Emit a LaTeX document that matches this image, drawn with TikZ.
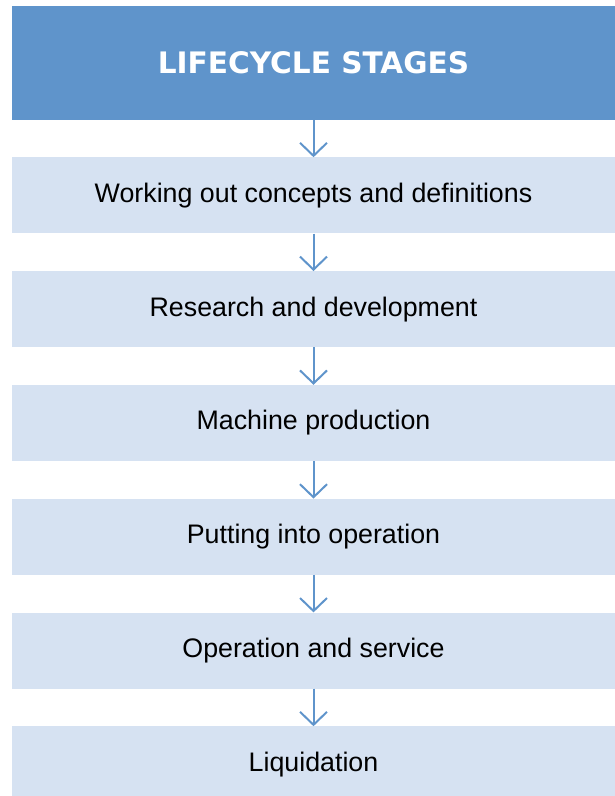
\documentclass[tikz,border=0pt]{standalone}
\usepackage{fontspec}
\setmainfont{Liberation Sans}
\newfontfamily\titlefont{DejaVu Sans}
\usetikzlibrary{positioning,arrows.meta}

\begin{document}
\begin{tikzpicture}[x=1pt,y=1pt]
    % Define colour palette
    \definecolor{headblue}{RGB}{95,148,203}
    \definecolor{stagefill}{RGB}{214,226,242}

    % Define styles
    \tikzset{
        header/.style={
            fill=headblue,
            minimum width=603pt,
            minimum height=114pt,
            inner sep=0pt,
            text=white,
            font=\titlefont\bfseries\fontsize{29.6}{35}\selectfont
        },
        stage/.style={
            fill=stagefill,
            minimum width=603pt,
            minimum height=75.9pt,
            inner sep=0pt,
            font=\fontsize{26.8}{31}\selectfont
        },
        arrow/.style={
            -{Straight Barb[length=13pt,width=27pt,line width=2pt]},
            headblue,
            line width=2pt
        }
    }

    % Fix page size
    \useasboundingbox (0,0) rectangle (615,-796);

    % Title
    \node[header] (title) at (313.5,-63) {LIFECYCLE STAGES};

    % Stage column
    \node[stage, below=37pt of title] (concepts) {Working out concepts and definitions};
    \node[stage, below=37.5pt of concepts] (research) {Research and development};
    \node[stage, below=37.5pt of research] (production) {Machine production};
    \node[stage, below=37.5pt of production] (startup) {Putting into operation};
    \node[stage, below=37.5pt of startup] (service) {Operation and service};
    \node[stage, below=37.5pt of service] (liquidation) {Liquidation};

    % Flow arrows
    \draw[arrow] (title) -- (concepts);
    \draw[arrow] (concepts) -- (research);
    \draw[arrow] (research) -- (production);
    \draw[arrow] (production) -- (startup);
    \draw[arrow] (startup) -- (service);
    \draw[arrow] (service) -- (liquidation);

\end{tikzpicture}
\end{document}
